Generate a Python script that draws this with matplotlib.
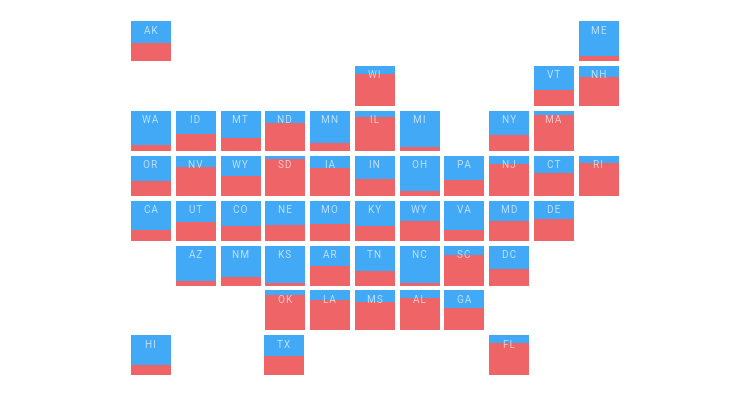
import matplotlib
matplotlib.use("Agg")
import matplotlib.pyplot as plt

# state tiles, read row by row
states = ["AK", "ME",
          "WI", "VT", "NH",
          "WA", "ID", "MT", "ND", "MN", "IL", "MI", "NY", "MA",
          "OR", "NV", "WY", "SD", "IA", "IN", "OH", "PA", "NJ", "CT", "RI",
          "CA", "UT", "CO", "NE", "MO", "KY", "WY", "VA", "MD", "DE",
          "AZ", "NM", "KS", "AR", "TN", "NC", "SC", "DC",
          "OK", "LA", "MS", "AL", "GA",
          "HI", "TX", "FL"]
cols = [0, 10,
        5, 9, 10,
        0, 1, 2, 3, 4, 5, 6, 8, 9,
        0, 1, 2, 3, 4, 5, 6, 7, 8, 9, 10,
        0, 1, 2, 3, 4, 5, 6, 7, 8, 9,
        1, 2, 3, 4, 5, 6, 7, 8,
        3, 4, 5, 6, 7,
        0, 2.97, 8]
rows = [0, 0,
        1, 1, 1,
        2, 2, 2, 2, 2, 2, 2, 2, 2,
        3, 3, 3, 3, 3, 3, 3, 3, 3, 3, 3,
        4, 4, 4, 4, 4, 4, 4, 4, 4, 4,
        5, 5, 5, 5, 5, 5, 5, 5,
        6, 6, 6, 6, 6,
        7, 7, 7]
# share of each tile filled red, from the bottom up
red_share = [0.46, 0.13,
             0.81, 0.41, 0.72,
             0.14, 0.43, 0.325, 0.70, 0.19, 0.86, 0.09, 0.41, 0.90,
             0.36, 0.725, 0.50, 0.93, 0.69, 0.41, 0.11, 0.40, 0.80, 0.57, 0.81,
             0.26, 0.46, 0.37, 0.40, 0.41, 0.37, 0.49, 0.28, 0.49, 0.55,
             0.125, 0.22, 0.075, 0.49, 0.36, 0.07, 0.76, 0.41,
             0.89, 0.76, 0.71, 0.81, 0.56,
             0.26, 0.49, 0.80]

blue = "#42a9f7"
red = "#ef6467"
x_pitch = 44.78
y_pitch = 44.86
tile_w = 40 / x_pitch
tile_h = 40 / y_pitch

fig = plt.figure(figsize=(7.5, 4), dpi=100)
ax = fig.add_axes([0, 0, 1, 1])

bottoms = [r + tile_h / 2 for r in rows]
ax.bar(cols, [-tile_h] * len(cols), width=tile_w, bottom=bottoms, color=blue, linewidth=0)
ax.bar(cols, [-tile_h * s for s in red_share], width=tile_w, bottom=bottoms, color=red, linewidth=0)

for name, c, r in zip(states, cols, rows):
    ax.text(c - 0.01, r - 0.24, "\u200a".join(name), ha="center", va="center",
            fontsize=7.2, family=["Roboto", "DejaVu Sans"], color="white", alpha=0.65)

# column 0 is centred at x=151, row 0 at y=41.3
ax.set_xlim(-151.0 / x_pitch, (750 - 151.0) / x_pitch)
ax.set_ylim((400 - 41.3) / y_pitch, -41.3 / y_pitch)
ax.axis("off")

fig.savefig("out.png", dpi=100)
